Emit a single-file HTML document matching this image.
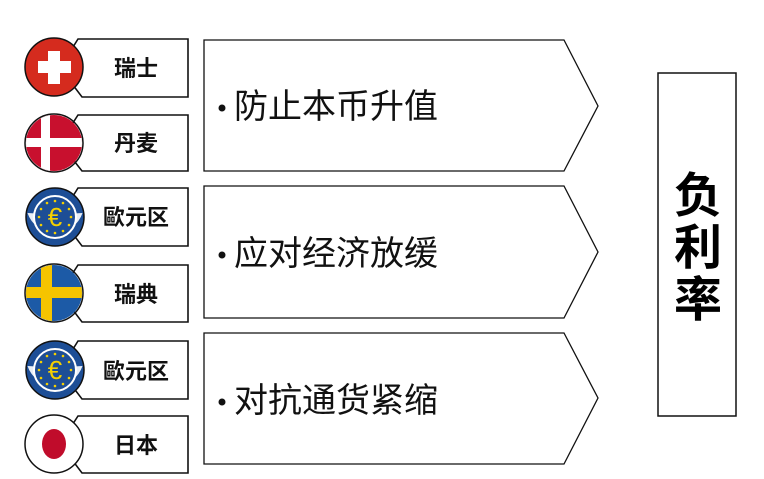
<!DOCTYPE html>
<html><head><meta charset="utf-8"><style>
html,body{margin:0;padding:0;background:#fff;width:764px;height:479px;overflow:hidden}
svg text{font-family:"Liberation Sans","Noto Sans CJK SC",sans-serif}
</style></head><body>
<svg width="764" height="479" viewBox="0 0 764 479" xmlns="http://www.w3.org/2000/svg">
<defs>
<g id="euro">
  <circle r="29" fill="#1d4e96" stroke="#111" stroke-width="1.5"/>
  <path d="M-27.5,-4 Q0,-2 27.5,-4 A29,29 0 0 1 -27.5,-4Z" fill="#e8eef6"/>
  <circle r="21" fill="#1d4e96" stroke="#fff" stroke-width="2"/>
  <g fill="#f5d000">
    <circle cx="0" cy="-16" r="1.3"/><circle cx="8" cy="-14" r="1.3"/><circle cx="14" cy="-8" r="1.3"/><circle cx="16" cy="0" r="1.3"/><circle cx="14" cy="8" r="1.3"/><circle cx="8" cy="14" r="1.3"/><circle cx="0" cy="16" r="1.3"/><circle cx="-8" cy="14" r="1.3"/><circle cx="-14" cy="8" r="1.3"/><circle cx="-16" cy="0" r="1.3"/><circle cx="-14" cy="-8" r="1.3"/><circle cx="-8" cy="-14" r="1.3"/>
  </g>
  <text x="0" y="9" text-anchor="middle" font-size="26" fill="#f5d000" style="font-family:'Liberation Sans',sans-serif">€</text>
</g>
</defs>
<g stroke="#111" stroke-width="1.6" fill="#fff">
  <polygon points="78,39 188,39 188,97 82,97 60,68"/>
  <polygon points="78,115 188,115 188,171 82,171 60,143"/>
  <polygon points="78,188 188,188 188,246 82,246 60,217"/>
  <polygon points="78,265 188,265 188,322 82,322 60,293"/>
  <polygon points="78,341 188,341 188,399 82,399 60,370"/>
  <polygon points="78,416 188,416 188,473 82,473 60,444"/>
</g>
<g font-size="22" font-weight="bold" fill="#111" text-anchor="middle">
  <text x="136" y="76">瑞士</text>
  <text x="136" y="151">丹麦</text>
  <text x="136" y="225">歐元区</text>
  <text x="136" y="302">瑞典</text>
  <text x="136" y="379">歐元区</text>
  <text x="136" y="453">日本</text>
</g>
<circle cx="54" cy="67" r="29" fill="#d52b1e" stroke="#111" stroke-width="1.5"/>
<rect x="48" y="51" width="12" height="33" fill="#fff"/>
<rect x="38" y="61" width="33" height="12" fill="#fff"/>
<clipPath id="c2"><circle cx="54" cy="143" r="28"/></clipPath>
<g clip-path="url(#c2)"><rect x="20" y="110" width="70" height="70" fill="#c8102e"/><rect x="20" y="138" width="70" height="9" fill="#fff"/><rect x="41" y="110" width="9" height="70" fill="#fff"/></g>
<circle cx="54" cy="143" r="29" fill="none" stroke="#111" stroke-width="1.5"/>
<use href="#euro" x="55" y="217"/>
<clipPath id="c4"><circle cx="54" cy="293" r="28"/></clipPath>
<g clip-path="url(#c4)"><rect x="20" y="260" width="70" height="70" fill="#1c5aa6"/><rect x="20" y="287" width="70" height="11" fill="#f5c400"/><rect x="41" y="260" width="11" height="70" fill="#f5c400"/></g>
<circle cx="54" cy="293" r="29" fill="none" stroke="#111" stroke-width="1.5"/>
<use href="#euro" x="55" y="370"/>
<circle cx="54" cy="444" r="29" fill="#fff" stroke="#111" stroke-width="1.5"/>
<ellipse cx="54" cy="444" rx="12" ry="15" fill="#c00c2b"/>
<g stroke="#111" stroke-width="1.3" fill="#fff">
  <polygon points="204,40 564,40 598,106 564,171 204,171"/>
  <polygon points="204,186 564,186 598,252 564,318 204,318"/>
  <polygon points="204,333 564,333 598,398 564,464 204,464"/>
</g>
<g fill="#111">
  <circle cx="222" cy="108" r="3.5"/>
  <circle cx="222" cy="255" r="3.5"/>
  <circle cx="222" cy="402" r="3.5"/>
</g>
<g font-size="34" fill="#111">
  <text x="234" y="118">防止本币升值</text>
  <text x="234" y="265">应对经济放缓</text>
  <text x="234" y="412">对抗通货紧缩</text>
</g>
<rect x="658" y="73" width="78" height="343" fill="#fff" stroke="#111" stroke-width="1.5"/>
<g font-size="48" font-weight="bold" fill="#000" text-anchor="middle">
  <text x="698" y="212">负</text>
  <text x="698" y="264">利</text>
  <text x="698" y="316">率</text>
</g>
</svg>
</body></html>
